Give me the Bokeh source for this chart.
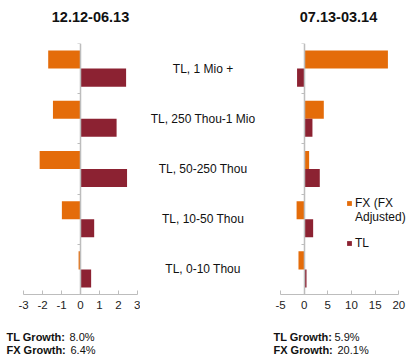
from bokeh.plotting import figure
from bokeh.models import Range1d, FixedTicker, Legend, LegendItem, ColumnDataSource
from bokeh.layouts import row, column
from bokeh.core.properties import value
from bokeh.embed import file_html
from bokeh.resources import INLINE

# ---- data ----
categories = ["TL, 1 Mio +", "TL, 250 Thou-1 Mio", "TL, 50-250 Thou", "TL, 10-50 Thou", "TL, 0-10 Thou"]
periods = ["12.12-06.13", "07.13-03.14"]
fx_p1 = [-1.7, -1.45, -2.15, -0.98, -0.1]
tl_p1 = [2.4, 1.9, 2.45, 0.72, 0.56]
fx_p2 = [17.7, 4.15, 1.05, -1.6, -1.2]
tl_p2 = [-1.5, 1.75, 3.3, 1.9, 0.5]
fx_name_lines = ["FX (FX", "Adjusted)"]
tl_name = "TL"
x_ticks_p1 = [-3, -2, -1, 0, 1, 2, 3]
x_tick_labels_p1 = ["-3", "-2", "-1", "0", "1", "2", "3"]
x_ticks_p2 = [-5, 0, 5, 10, 15, 20]
x_tick_labels_p2 = ["-5", "0", "5", "10", "15", "20"]
growth_names = ["TL Growth:", "FX Growth:"]
growth_p1 = ["8.0%", "6.4%"]
growth_p2 = ["5.9%", "20.1%"]

ORANGE = "#E46C0A"
MAROON = "#8C2232"
AXIS = "#BDBDBD"
TXT = "#111111"
FONT = "Liberation Sans"
W = 409
TOP_H = 34
MAIN_H = 288
BOT_H = 37
n = len(categories)
ypos = [n - 0.5 - i for i in range(n)]
BAR_H = 0.36


def bare(p):
    p.outline_line_color = None
    p.grid.visible = False
    p.axis.visible = False
    p.background_fill_color = "white"
    p.border_fill_color = "white"


def make_panel(width, bl, br, bt, xr, bounds, ticks, tick_labels, fx, tl):
    p = figure(width=width, height=MAIN_H, x_range=Range1d(*xr), y_range=Range1d(0, n),
               toolbar_location=None, output_backend="svg", title=None,
               min_border_left=bl, min_border_right=br, min_border_top=bt, min_border_bottom=28)
    p.outline_line_color = None
    p.grid.visible = False
    p.background_fill_color = "white"
    p.border_fill_color = "white"
    src = ColumnDataSource(dict(y_fx=[y + BAR_H / 2 for y in ypos], y_tl=[y - BAR_H / 2 for y in ypos],
                                fx=fx, tl=tl))
    r_fx = p.hbar(y="y_fx", left=0, right="fx", height=BAR_H, source=src, fill_color=ORANGE, line_color=None)
    r_tl = p.hbar(y="y_tl", left=0, right="tl", height=BAR_H, source=src, fill_color=MAROON, line_color=None)
    xa = p.xaxis[0]
    xa.ticker = FixedTicker(ticks=ticks)
    xa.bounds = bounds
    xa.major_label_overrides = {t: s for t, s in zip(ticks, tick_labels)}
    xa.axis_line_color = AXIS
    xa.major_tick_line_color = AXIS
    xa.major_tick_in = 4
    xa.major_tick_out = 0
    xa.minor_tick_line_color = None
    xa.major_label_text_font = FONT
    xa.major_label_text_font_size = "11.5px"
    xa.major_label_text_color = "#222222"
    xa.major_label_standoff = 6
    ya = p.yaxis[0]
    ya.fixed_location = 0
    ya.ticker = FixedTicker(ticks=[], minor_ticks=list(range(n + 1)))
    ya.axis_line_color = AXIS
    ya.axis_line_width = 1.5
    ya.major_tick_line_color = None
    ya.minor_tick_line_color = AXIS
    ya.minor_tick_in = 0
    ya.minor_tick_out = 3
    return p, r_fx, r_tl


def style_legend(lg):
    lg.glyph_width = 6
    lg.glyph_height = 6
    lg.label_standoff = 3
    lg.label_text_font = FONT
    lg.label_text_font_size = "12px"
    lg.label_text_color = TXT
    lg.label_height = 13
    lg.spacing = 0
    lg.padding = 0
    lg.margin = 0
    lg.border_line_color = None
    lg.background_fill_alpha = 0


# ---- titles strip ----
top = figure(width=W, height=TOP_H, x_range=Range1d(0, W), y_range=Range1d(0, TOP_H),
             toolbar_location=None, output_backend="svg", title=None,
             min_border_left=0, min_border_right=0, min_border_top=0, min_border_bottom=0)
bare(top)
top.text(x=[90, 338], y=[18, 18], text=periods, text_font=value(FONT), text_font_style=value("bold"),
         text_font_size="14.5px", text_align="center", text_baseline="middle", text_color=TXT)

# ---- main row ----
# left panel: figure 0..140, frame 23..137
p1, _, _ = make_panel(140, 23, 3, 9, (-3, 3), (-3, 3), x_ticks_p1, x_tick_labels_p1, fx_p1, tl_p1)

# middle: category labels, figure 140..265
pm = figure(width=125, height=MAIN_H, x_range=Range1d(0, 1), y_range=Range1d(0, n),
            toolbar_location=None, output_backend="svg", title=None,
            min_border_left=0, min_border_right=0, min_border_top=9, min_border_bottom=28)
bare(pm)
msrc = ColumnDataSource(dict(x=[0.5] * n, y=ypos, t=categories))
pm.text(x="x", y="y", text="t", source=msrc, text_font=value(FONT), text_font_size="12px",
        text_align="center", text_baseline="middle", text_color=TXT)

# right panel: figure 265..409, frame 280..409 (axis ends at 20 -> x=398)
p2, r_fx2, r_tl2 = make_panel(144, 15, 0, 6, (-5, 22.26), (-5, 20), x_ticks_p2, x_tick_labels_p2, fx_p2, tl_p2)
# empty, invisible renderer used only for the second line of the FX legend label
r_blank = p2.hbar(y=[], left=[], right=[], height=BAR_H, fill_alpha=0, line_alpha=0)

legend_fx = Legend(items=[LegendItem(label=fx_name_lines[0], renderers=[r_fx2]),
                          LegendItem(label=fx_name_lines[1], renderers=[r_blank])],
                   location=(66, 70), orientation="vertical")
style_legend(legend_fx)
legend_tl = Legend(items=[LegendItem(label=tl_name, renderers=[r_tl2])],
                   location=(66, 44), orientation="vertical")
style_legend(legend_tl)
p2.add_layout(legend_fx)
p2.add_layout(legend_tl)

# ---- footnotes strip ----
bot = figure(width=W, height=BOT_H, x_range=Range1d(0, W), y_range=Range1d(0, BOT_H),
             toolbar_location=None, output_backend="svg", title=None,
             min_border_left=0, min_border_right=0, min_border_top=0, min_border_bottom=0)
bare(bot)
fsrc_b = ColumnDataSource(dict(x=[6, 6, 273, 273], y=[23, 10, 23, 10], t=growth_names * 2))
fsrc_v = ColumnDataSource(dict(x=[69, 70, 334, 337], y=[23, 10, 23, 10], t=growth_p1 + growth_p2))
bot.text(x="x", y="y", text="t", source=fsrc_b, text_font=value(FONT), text_font_style=value("bold"),
         text_font_size="11px", text_align="left", text_baseline="middle", text_color=TXT)
bot.text(x="x", y="y", text="t", source=fsrc_v, text_font=value(FONT),
         text_font_size="11px", text_align="left", text_baseline="middle", text_color=TXT)

layout = column(top, row(p1, pm, p2), bot)
open("out.html", "w").write(file_html(layout, INLINE))
